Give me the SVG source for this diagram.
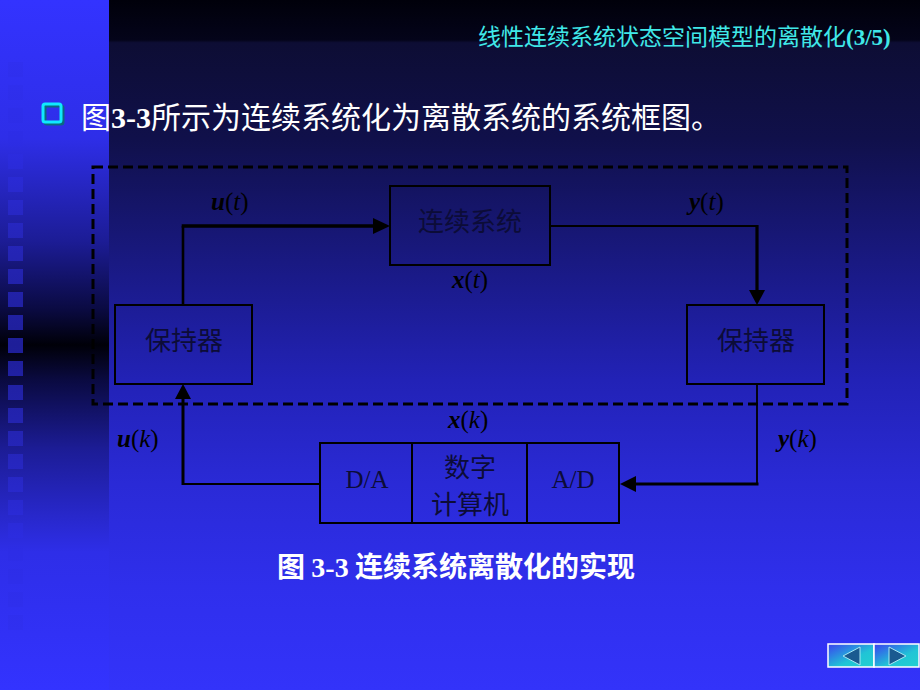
<svg xmlns="http://www.w3.org/2000/svg" width="920" height="690" viewBox="0 0 920 690">
<defs>
<linearGradient id="gMain" x1="0" y1="0" x2="0" y2="1">
<stop offset="0" stop-color="#00000a"/>
<stop offset="0.058" stop-color="#04041a"/>
<stop offset="0.062" stop-color="#0d0d34"/>
<stop offset="0.2" stop-color="#10104a"/>
<stop offset="0.4" stop-color="#1a1a88"/>
<stop offset="0.55" stop-color="#2222b6"/>
<stop offset="0.7" stop-color="#2a2ad6"/>
<stop offset="0.85" stop-color="#2f2fec"/>
<stop offset="1" stop-color="#3333fa"/>
</linearGradient>
<linearGradient id="gLeft" x1="0" y1="0" x2="0" y2="1">
<stop offset="0" stop-color="#3333ff"/>
<stop offset="0.2" stop-color="#2e2ee8"/>
<stop offset="0.35" stop-color="#1c1c95"/>
<stop offset="0.45" stop-color="#0a0a40"/>
<stop offset="0.5" stop-color="#000008"/>
<stop offset="0.55" stop-color="#0a0a40"/>
<stop offset="0.65" stop-color="#1c1c95"/>
<stop offset="0.8" stop-color="#2e2ee8"/>
<stop offset="1" stop-color="#3333ff"/>
</linearGradient>
<linearGradient id="gSq" gradientUnits="userSpaceOnUse" x1="0" y1="0" x2="0" y2="690">
<stop offset="0" stop-color="#3232f8"/>
<stop offset="0.2" stop-color="#2d2de6"/>
<stop offset="0.35" stop-color="#2525b8"/>
<stop offset="0.5" stop-color="#1e1e98"/>
<stop offset="0.65" stop-color="#2525b8"/>
<stop offset="0.8" stop-color="#2d2de6"/>
<stop offset="1" stop-color="#3232f8"/>
</linearGradient>
<linearGradient id="gBtn" x1="0" y1="0" x2="1" y2="1">
<stop offset="0" stop-color="#3a40f0"/>
<stop offset="0.6" stop-color="#20c4d6"/>
<stop offset="1" stop-color="#22d0d0"/>
</linearGradient>
<style>
.sq{fill:url(#gSq)}
.box{fill:none;stroke:#000;stroke-width:2}
.lbl{font-family:"Noto Sans CJK SC",sans-serif;font-size:26px;fill:#0c0c38;text-anchor:middle}
.rom{font-family:"Liberation Serif",serif;font-size:25px;fill:#0c0c38;text-anchor:middle}
.math{font-family:"Liberation Serif",serif;font-size:25px;fill:#000}
.bi{font-weight:bold;font-style:italic}
.it{font-style:italic}
.ln{fill:none;stroke:#000}
.ah{fill:#000}
.cap{font-family:"Noto Sans CJK SC",sans-serif;fill:#fff}
.ser{font-family:"Liberation Serif",serif;font-weight:bold}
.tri{fill:#1a5a90;stroke:#a8e8f4;stroke-width:1}
</style>
</defs>
<rect x="0" y="0" width="920" height="690" fill="url(#gMain)"/>
<rect x="0" y="0" width="109" height="690" fill="url(#gLeft)"/>
<g id="squares">
<rect class="sq" x="8" y="62" width="15" height="15"/>
<rect class="sq" x="8" y="85" width="15" height="15"/>
<rect class="sq" x="8" y="108" width="15" height="15"/>
<rect class="sq" x="8" y="131" width="15" height="15"/>
<rect class="sq" x="8" y="154" width="15" height="15"/>
<rect class="sq" x="8" y="177" width="15" height="15"/>
<rect class="sq" x="8" y="200" width="15" height="15"/>
<rect class="sq" x="8" y="223" width="15" height="15"/>
<rect class="sq" x="8" y="246" width="15" height="15"/>
<rect class="sq" x="8" y="269" width="15" height="15"/>
<rect class="sq" x="8" y="292" width="15" height="15"/>
<rect class="sq" x="8" y="315" width="15" height="15"/>
<rect class="sq" x="8" y="338" width="15" height="15"/>
<rect class="sq" x="8" y="361" width="15" height="15"/>
<rect class="sq" x="8" y="385" width="15" height="15"/>
<rect class="sq" x="8" y="408" width="15" height="15"/>
<rect class="sq" x="8" y="431" width="15" height="15"/>
<rect class="sq" x="8" y="454" width="15" height="15"/>
<rect class="sq" x="8" y="477" width="15" height="15"/>
<rect class="sq" x="8" y="500" width="15" height="15"/>
<rect class="sq" x="8" y="523" width="15" height="15"/>
<rect class="sq" x="8" y="546" width="15" height="15"/>
<rect class="sq" x="8" y="569" width="15" height="15"/>
<rect class="sq" x="8" y="592" width="15" height="15"/>
<rect class="sq" x="8" y="615" width="15" height="15"/>
</g>
<g id="title">
<text x="478" y="45" font-family="'Noto Sans CJK SC',sans-serif" font-size="23" fill="#40e8e8">线性连续系统状态空间模型的离散化<tspan font-family="'Liberation Serif',serif" font-weight="bold">(3/5)</tspan></text>
</g>
<g id="heading">
<rect x="45" y="106" width="18" height="18" rx="2" fill="none" stroke="#0a6a80" stroke-width="3"/>
<rect x="43" y="104" width="18" height="18" rx="2" fill="none" stroke="#10e8ff" stroke-width="3"/>
<text x="81" y="128" class="cap" font-size="30">图<tspan class="ser">3-3</tspan>所示为连续系统化为离散系统的系统框图。</text>
</g>
<g id="boundary">
<rect x="93" y="167" width="754" height="237" fill="none" stroke="#000" stroke-width="3" stroke-dasharray="10 5"/>
</g>
<g id="continuous">
<rect class="box" x="390" y="186" width="160" height="79"/>
<text class="lbl" x="470" y="231">连续系统</text>
</g>
<g id="holdL">
<rect class="box" x="115" y="305" width="137" height="79"/>
<text class="lbl" x="184" y="350">保持器</text>
</g>
<g id="holdR">
<rect class="box" x="687" y="305" width="137" height="79"/>
<text class="lbl" x="756" y="350">保持器</text>
</g>
<g id="computer">
<rect class="box" x="320" y="443" width="299" height="80"/>
<line class="ln" x1="412" y1="443" x2="412" y2="523" stroke-width="2"/>
<line class="ln" x1="527" y1="443" x2="527" y2="523" stroke-width="2"/>
<text class="rom" x="367" y="488">D/A</text>
<text class="lbl" x="470" y="477" font-size="24">数字</text>
<text class="lbl" x="470" y="514" font-size="24">计算机</text>
<text class="rom" x="573" y="488">A/D</text>
</g>
<g id="connectors">
<path class="ln" d="M183,305 V226" stroke-width="2.6"/>
<path class="ln" d="M181.7,226 H376" stroke-width="3.6"/>
<polygon class="ah" points="390,226 373,218 373,234"/>
<path class="ln" d="M550,226 H757" stroke-width="2"/>
<path class="ln" d="M757,225 V292" stroke-width="3.2"/>
<polygon class="ah" points="757,305 749,290 765,290"/>
<path class="ln" d="M757,384 V484" stroke-width="1.8"/>
<path class="ln" d="M758.5,484 H634" stroke-width="3"/>
<polygon class="ah" points="620,484 636,476 636,492"/>
<path class="ln" d="M320,484 H183" stroke-width="2.2"/>
<path class="ln" d="M183,485 V397" stroke-width="3"/>
<polygon class="ah" points="183,384 175,399 191,399"/>
</g>
<g id="labels">
<text class="math" x="211" y="210"><tspan class="bi">u</tspan>(<tspan class="it">t</tspan>)</text>
<text class="math" x="689" y="210"><tspan class="bi">y</tspan>(<tspan class="it">t</tspan>)</text>
<text class="math" x="452" y="288"><tspan class="bi">x</tspan>(<tspan class="it">t</tspan>)</text>
<text class="math" x="448" y="428"><tspan class="bi">x</tspan>(<tspan class="it">k</tspan>)</text>
<text class="math" x="117" y="447"><tspan class="bi">u</tspan>(<tspan class="it">k</tspan>)</text>
<text class="math" x="778" y="447"><tspan class="bi">y</tspan>(<tspan class="it">k</tspan>)</text>
</g>
<g id="caption">
<text x="277" y="577" class="cap" font-size="28" font-weight="bold">图 <tspan class="ser">3-3</tspan> 连续系统离散化的实现</text>
</g>
<g id="nav">
<rect x="828" y="644" width="46" height="23" fill="url(#gBtn)" stroke="#fff" stroke-width="1.5"/>
<rect x="874" y="644" width="45" height="23" fill="url(#gBtn)" stroke="#fff" stroke-width="1.5"/>
<polygon class="tri" points="843,656 860,647 860,665"/>
<polygon class="tri" points="889,647 906,656 889,665"/>
</g>
</svg>
